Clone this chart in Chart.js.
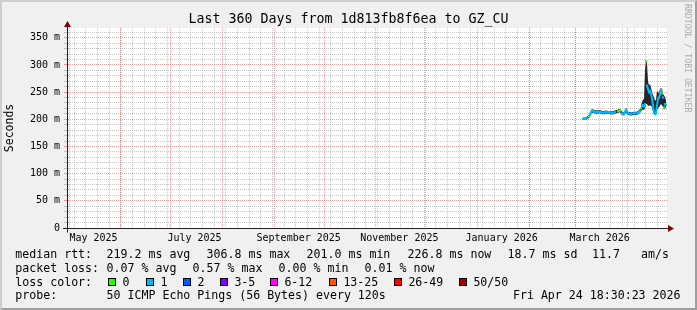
<!DOCTYPE html>
<html>
<head>
<meta charset="utf-8">
<script src="https://cdn.jsdelivr.net/npm/chart.js@4/dist/chart.umd.min.js"></script>
<style>
html,body{margin:0;padding:0;background:#f0f0f0;}
#wrap{position:relative;width:697px;height:310px;background:#f0f0f0;overflow:hidden;font-family:"DejaVu Sans Mono",monospace;}
#c{position:absolute;left:0;top:0;}
.frame{position:absolute;left:0;top:0;width:697px;height:310px;box-sizing:border-box;border-top:2px solid #cfcfcf;border-left:2px solid #cfcfcf;border-right:2px solid #9e9e9e;border-bottom:2px solid #9e9e9e;pointer-events:none;}
.t{position:absolute;font-size:11.6px;line-height:14px;white-space:pre;color:#000;}
.box{position:absolute;width:8px;height:8px;box-sizing:border-box;border:1px solid #000;}
.wm{position:absolute;left:683px;top:4px;writing-mode:vertical-rl;font-size:8.2px;line-height:10px;color:#aaaaaa;white-space:pre;}
</style>
</head>
<body>
<div id="wrap">
  <canvas id="c" width="697" height="310"></canvas>
  <div class="frame"></div>
</div>
<script>
// ---------- data (x = days since Tue Apr 29 2025 18:30, range 0..360) ----------
const days     = [309.6,310.8,312.0,313.2,313.8,314.4,315.0,316.2,318.0,319.8,321.6,323.4,325.2,327.0,328.8,330.6,331.8,333.0,334.2,335.4,336.6,338.4,340.2,342.0,343.2,343.8,344.4,345.0,345.6,346.2,346.8,347.4,348.0,348.6,349.2,349.8,350.4,351.0,351.6,352.2,352.8,353.4,354.0,354.6,355.2,355.8,356.4,357.0,357.6,358.2,358.8,359.4];
const median   = [201,201,203,205,208,213,216,214,213,214,212,213,213,212,213,215,216,211,210,217,211,210,211,211,213,215,220,224,226,224,228,306.8,262,256,250,252,248,238,225,212,210,211,225,238,240,245,254,248,240,222,228,226.8];
const smokeLo  = [199,199,200,202,205,209,212,211,210,211,209,210,210,209,210,212,213,208,207,212,208,207,208,208,210,212,214,217,218,217,220,228,228,224,225,226,225,222,215,210,209,209,218,220,222,225,228,226,222,218,220,222];
const smokeHi  = [203,203,205,208,211,216,219,217,216,217,215,216,215,215,216,218,219,214,213,221,214,213,214,214,217,219,226,232,236,238,290,307,303,270,262,265,258,250,245,240,234,236,252,250,247,256,257,256,246,244,240,235];
const lostPings= [1,1,1,0,1,1,1,1,1,1,1,1,1,1,1,0,0,1,1,1,1,1,1,1,1,1,0,1,1,1,1,0,1,1,1,1,1,1,1,1,1,1,1,1,1,1,1,0,1,0,1,1];

const lossColors = ['#26ff00','#00b8ff','#0059ff','#7e00ff','#ff00ff','#ff5500','#ff0000','#a10000'];
const lossLabels = ['0','1','2','3-5','6-12','13-25','26-49','50/50'];

const monthStartDays = [1.229,32.229,62.229,93.229,124.229,154.229,185.229,215.229,246.229,277.229,305.229,336.229];
const xLabelDays = [15.9,76.5,139.0,199.4,260.8,319.6];
const xLabels = ['May 2025','July 2025','September 2025','November 2025','January 2026','March 2026'];
const yTicks = [0,10,20,30,40,50,60,70,80,90,100,110,120,130,140,150,160,170,180,190,200,210,220,230,240,250,260,270,280,290,300,310,320,330,340,350,360];
const yMajorLabels = {0:'0',50:'50 m',100:'100 m',150:'150 m',200:'200 m',250:'250 m',300:'300 m',350:'350 m'};

const titleText = 'Last 360 Days from 1d813fb8f6ea to GZ_CU';
const yTitle = 'Seconds';
const rttLabel = 'median rtt:';
const rttStats = ['219.2 ms avg','306.8 ms max','201.0 ms min','226.8 ms now','18.7 ms sd','11.7','am/s'];
const lossLabel = 'packet loss:';
const lossStats = ['0.07 % avg','0.57 % max','0.00 % min','0.01 % now'];
const colorLabel = 'loss color:';
const probeLabel = 'probe:';
const probeText = '50 ICMP Echo Pings (56 Bytes) every 120s';
const dateText = 'Fri Apr 24 18:30:23 2026';
const watermark = 'RRDTOOL / TOBI OETIKER';

// ---------- helpers ----------
function lossBucket(n){
  if(n<=0) return 0; if(n===1) return 1; if(n===2) return 2;
  if(n<=5) return 3; if(n<=12) return 4; if(n<=25) return 5; if(n<=49) return 6; return 7;
}
const MINOR = 'rgba(143,143,143,0.5)';
const MAJOR = 'rgba(233,99,99,0.6)';
const FONT = '"DejaVu Sans Mono", monospace';

// grid ticks: month starts (major) + Sundays (minor)
const monthSet = new Set(monthStartDays);
const gridTicks = monthStartDays.map(v=>({value:v}));
for(let d=4.229; d<360; d+=7){ gridTicks.push({value:+d.toFixed(3)}); }
gridTicks.sort((a,b)=>a.value-b.value);

const pts = arr => days.map((d,i)=>({x:d,y:arr[i]}));
const pointColors = lostPings.map(n=>lossColors[lossBucket(n)]);

const decor = {
  id:'decor',
  beforeDraw(chart){
    const {ctx, chartArea:a} = chart;
    ctx.save(); ctx.fillStyle='#ffffff';
    ctx.fillRect(a.left, a.top, a.right-a.left, a.bottom-a.top);
    ctx.restore();
  },
  afterDraw(chart){
    const {ctx, chartArea:a} = chart;
    const bx = Math.round(a.left)+0.5, by = Math.round(a.bottom)+0.5;
    ctx.save();
    ctx.strokeStyle='#202020'; ctx.lineWidth=1;
    ctx.beginPath();
    ctx.moveTo(bx, by+4); ctx.lineTo(bx, a.top-3);
    ctx.moveTo(a.left-4, by); ctx.lineTo(a.right+4, by);
    ctx.stroke();
    ctx.fillStyle='#7f0000';
    ctx.beginPath(); ctx.moveTo(a.right+7, by); ctx.lineTo(a.right+1, by-3.5); ctx.lineTo(a.right+1, by+3.5); ctx.closePath(); ctx.fill();
    ctx.beginPath(); ctx.moveTo(bx, a.top-7); ctx.lineTo(bx-3.5, a.top-1); ctx.lineTo(bx+3.5, a.top-1); ctx.closePath(); ctx.fill();
    ctx.restore();
  }
};

new Chart(document.getElementById('c'), {
  type:'line',
  data:{datasets:[
    {label:'median', data:pts(median), borderWidth:2, fill:false, order:0,
     pointRadius:1.5, pointStyle:'rect', pointBorderWidth:0, pointBackgroundColor:pointColors,
     borderColor:lossColors[1], borderCapStyle:'butt', tension:0,
     segment:{borderColor: c => {
       const b0 = lossBucket(lostPings[c.p0DataIndex]), b1 = lossBucket(lostPings[c.p1DataIndex]);
       return b0===b1 ? lossColors[b1] : 'rgba(0,0,0,0)';
     }}},
    {label:'smokeLo', data:pts(smokeLo), borderWidth:0, pointRadius:0, fill:false, order:1},
    {label:'smokeHi', data:pts(smokeHi), borderWidth:0, pointRadius:0, fill:'-1', order:1, backgroundColor:'#262626', borderColor:'#262626'}
  ]},
  options:{
    responsive:false, animation:false, events:[],
    layout:{padding:0},
    plugins:{
      legend:{display:false}, tooltip:{enabled:false},
      title:{display:true, text:titleText, color:'#000', font:{family:FONT, size:13.3, weight:'normal'}, padding:{top:12, bottom:0}}
    },
    scales:{
      x:{type:'linear', position:'bottom', weight:0, min:0, max:360,
        afterBuildTicks:s=>{ s.ticks = gridTicks.map(t=>({value:t.value})); },
        afterFit:s=>{ s.height = 0; },
        ticks:{display:false, autoSkip:false},
        grid:{drawTicks:false, lineWidth:1, color:c=> (c.tick && monthSet.has(c.tick.value)) ? MAJOR : MINOR},
        border:{display:true, color:'#202020', dash:[1,1]}},
      xl:{type:'linear', position:'bottom', weight:1, min:0, max:360,
        afterBuildTicks:s=>{ s.ticks = xLabelDays.map(v=>({value:v})); },
        afterFit:s=>{ s.height = 82; },
        ticks:{autoSkip:false, maxRotation:0, minRotation:0, padding:4, color:'#000', font:{family:FONT, size:10},
          callback:(v,i)=>xLabels[i]},
        grid:{display:false, drawTicks:false}, border:{display:false}},
      y:{type:'linear', position:'left', min:0, max:368,
        afterBuildTicks:s=>{ s.ticks = yTicks.map(v=>({value:v})); },
        afterFit:s=>{ s.width = 67; },
        ticks:{autoSkip:false, padding:4, color:'#000', font:{family:FONT, size:10},
          callback:v=> (v in yMajorLabels) ? yMajorLabels[v] : ''},
        grid:{lineWidth:1, tickLength:3,
          color:c=> (c.tick && c.tick.value%50===0) ? MAJOR : MINOR,
          tickColor:c=> (c.tick && c.tick.value%50===0) ? MAJOR : MINOR},
        border:{display:true, color:'#202020', dash:[1,1]},
        title:{display:true, text:yTitle, color:'#000', font:{family:FONT, size:11.5}, padding:{top:3, bottom:0}}},
      yr:{type:'linear', position:'right', min:0, max:1,
        afterFit:s=>{ s.width = 30; },
        ticks:{display:false}, grid:{display:false, drawTicks:false}, border:{display:false}}
    }
  },
  plugins:[decor]
});

// ---------- footer legend (HTML text) ----------
const wrap = document.getElementById('wrap');
function txt(s, x, y){ const d=document.createElement('div'); d.className='t'; d.textContent=s; d.style.left=x+'px'; d.style.top=y+'px'; wrap.appendChild(d); return d; }
const rowTop = [247.3, 260.8, 274.5, 288.2];
txt(rttLabel, 15.3, rowTop[0]);
[106.6,206.6,306.6,407.6,507.6,592,641].forEach((x,i)=>txt(rttStats[i], x, rowTop[0]));
txt(lossLabel, 15.3, rowTop[1]);
[106.6,192.6,278.6,364.6].forEach((x,i)=>txt(lossStats[i], x, rowTop[1]));
txt(colorLabel, 15.3, rowTop[2]);
[108,145.5,182.5,219.5,269.5,328.5,393.5,458.5].forEach((x,i)=>{
  const b=document.createElement('div'); b.className='box'; b.style.left=Math.round(x)+'px'; b.style.top='278px'; b.style.background=lossColors[i]; wrap.appendChild(b);
  txt(lossLabels[i], Math.round(x)+15-0.6, rowTop[2]);
});
txt(probeLabel, 15.3, rowTop[3]);
txt(probeText, 106.6, rowTop[3]);
const dt = txt(dateText, 0, rowTop[3]); dt.style.left=''; dt.style.right='16.5px';
const wm = document.createElement('div'); wm.className='wm'; wm.textContent=watermark; wrap.appendChild(wm);
</script>
</body>
</html>
